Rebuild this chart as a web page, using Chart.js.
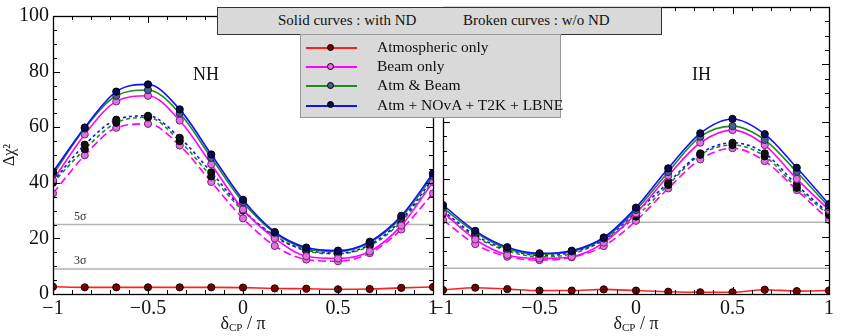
<!DOCTYPE html>
<html>
<head>
<meta charset="utf-8">
<script src="https://cdn.jsdelivr.net/npm/chart.js"></script>
<style>
    body { margin: 0; background: #fff; }
    #wrap { position: relative; width: 855px; height: 336px; font-family: 'Liberation Serif', serif; color: #111; }
    #wrap canvas { position: absolute; left: 0; top: 0; }
    .note { position: absolute; left: 217px; top: 7px; width: 443px; height: 26px; background: #d9d9d9; border: 1px solid #333; font-size: 15px; }
    .note span { position: absolute; top: 4px; white-space: nowrap; }
    .legend { position: absolute; left: 300px; top: 34px; width: 259px; height: 82px; background: #d9d9d9; border: 1px solid #999; font-size: 15.5px; }
    .legend .row { position: absolute; left: 0; height: 19px; white-space: nowrap; }
    .legend .row .sw { position: absolute; left: 5px; top: 9px; width: 51px; height: 2px; }
    .legend .row .sw i { position: absolute; left: 21px; top: -3.5px; width: 7px; height: 7px; border-radius: 50%; box-sizing: border-box; border: 1px solid #000; }
    .legend .row b { position: absolute; left: 76px; top: 0; font-weight: normal; }
    .xtitle { position: absolute; top: 313px; font-size: 18px; white-space: nowrap; transform: translateX(-50%); }
    .xtitle sub { font-size: 11px; vertical-align: -2px; }
    .panel { position: absolute; top: 64px; font-size: 18px; }
</style>
</head>
<body>
<div id="wrap">
    <canvas id="nhChart" width="855" height="336"></canvas>
    <canvas id="ihChart" width="855" height="336"></canvas>

    <div class="panel" style="left:193px;">NH</div>
    <div class="panel" style="left:692px;">IH</div>

    <div class="note">
        <span style="left:60px;">Solid curves : with ND</span>
        <span style="left:245px;">Broken curves : w/o ND</span>
    </div>

    <div class="legend" id="legend"></div>

    <div class="xtitle" style="left:243px;">δ<sub>CP</sub> / π</div>
    <div class="xtitle" style="left:636px;">δ<sub>CP</sub> / π</div>
</div>

<script>
    // delta_CP / pi sample points
    const deltaCP = [-1, -0.833, -0.667, -0.5, -0.333, -0.167, 0, 0.167, 0.333, 0.5, 0.667, 0.833, 1];

    // NH panel, solid = with ND, dashed = w/o ND
    const nhAtm         = [2.6, 2.4, 2.4, 2.4, 2.4, 2.4, 2.3, 2.0, 1.9, 1.7, 1.8, 2.2, 2.5];
    const nhBeamND      = [40.9, 57.4, 69.3, 71.3, 62.4, 46.7, 30.4, 20.0, 13.6, 12.8, 15.3, 24.6, 40.3];
    const nhAtmBeamND   = [43.0, 59.5, 71.3, 73.4, 65.0, 49.0, 33.0, 22.0, 16.3, 15.3, 18.5, 27.5, 42.5];
    const nhAllND       = [43.9, 59.9, 72.8, 75.4, 66.4, 50.2, 33.9, 22.3, 16.7, 15.6, 18.8, 28.1, 43.4];
    const nhBeamNoND    = [36.2, 49.9, 59.8, 61.2, 53.4, 40.3, 27.2, 17.3, 12.4, 11.8, 14.7, 23.2, 36.2];
    const nhAtmBeamNoND = [40.0, 52.1, 61.6, 63.5, 55.0, 42.3, 30.0, 21.0, 15.5, 14.5, 17.3, 26.0, 40.5];
    const nhAllNoND     = [40.5, 53.7, 62.7, 64.1, 56.2, 43.8, 30.4, 20.6, 15.9, 14.7, 17.7, 26.7, 41.5];

    // IH panel
    const ihAtm         = [1.4, 2.2, 1.7, 1.2, 1.2, 1.6, 1.2, 0.8, 0.6, 0.6, 1.5, 1.0, 1.2];
    const ihBeamND      = [28.5, 19.0, 13.6, 12.4, 13.0, 17.9, 28.1, 41.2, 52.7, 57.1, 51.9, 40.1, 29.3];
    const ihAtmBeamND   = [30.0, 21.5, 15.8, 13.9, 14.8, 19.3, 29.3, 42.5, 54.8, 58.5, 53.7, 42.5, 30.3];
    const ihAllND       = [31.0, 22.0, 16.3, 14.2, 15.1, 19.7, 30.1, 43.8, 56.0, 61.0, 55.7, 44.0, 31.3];
    const ihBeamNoND    = [25.8, 17.4, 13.0, 11.8, 12.8, 16.7, 25.5, 36.8, 46.9, 50.8, 46.3, 36.2, 25.8];
    const ihAtmBeamNoND = [28.0, 20.0, 15.0, 13.0, 14.0, 18.7, 27.0, 38.0, 48.5, 51.9, 48.0, 37.0, 27.5];
    const ihAllNoND     = [29.0, 20.5, 15.5, 13.5, 14.5, 19.0, 28.5, 38.8, 49.0, 52.7, 49.0, 38.0, 28.0];

    const legendLabels = ['Atmospheric only', 'Beam only', 'Atm & Beam', 'Atm + NOvA + T2K + LBNE'];
    const sigmaLevels = [25, 9];
    const sigmaLabels = ['5σ', '3σ'];
    const xTicks = [-1, -0.5, 0, 0.5, 1];
    const yTicks = [0, 20, 40, 60, 80, 100];

    const colors = { atm: '#ff2020', beam: '#ff00ff', both: '#1f8a1f', all: '#1010ff' };
    const markers = {
        atm: { fill: '#7a0000', edge: '#1a0000' },
        beam: { fill: '#e070e0', edge: '#7a207a' },
        both: { fill: '#4a5f8f', edge: '#1a2a4a' },
        all: { fill: '#0a0a55', edge: '#000' },
        black: { fill: '#111', edge: '#000' }
    };

    Chart.defaults.font.family = "'Liberation Serif', serif";
    Chart.defaults.color = '#111';

    function series(values, color, marker, dash) {
        return {
            data: deltaCP.map((x, i) => ({ x: x, y: values[i] })),
            borderColor: color,
            borderWidth: 1.6,
            borderDash: dash || [],
            pointRadius: 3.6,
            pointBackgroundColor: marker.fill,
            pointBorderColor: marker.edge,
            pointBorderWidth: 1,
            cubicInterpolationMode: 'monotone',
            fill: false
        };
    }

    // sigma lines, frame and inward ticks
    const framePlugin = {
        id: 'framePlugin',
        beforeDatasetsDraw(chart, args, opts) {
            const { ctx, chartArea: a, scales: { y } } = chart;
            ctx.save();
            ctx.strokeStyle = '#b4b4b4';
            ctx.lineWidth = 1.5;
            sigmaLevels.forEach((v, i) => {
                const py = y.getPixelForValue(v);
                ctx.beginPath();
                ctx.moveTo(a.left, py);
                ctx.lineTo(a.right, py);
                ctx.stroke();
                if (opts.labels) {
                    ctx.fillStyle = '#333';
                    ctx.font = "12px 'Liberation Serif'";
                    ctx.fillText(sigmaLabels[i], a.left + 21, py - 5);
                }
            });
            ctx.restore();
        },
        afterDatasetsDraw(chart) {
            const { ctx, chartArea: a, scales: { x, y } } = chart;
            ctx.save();
            ctx.strokeStyle = '#000';
            ctx.lineWidth = 1;
            ctx.beginPath();
            for (let k = 0; k <= 20; k++) {
                const v = -1 + k * 0.1;
                const px = Math.round(x.getPixelForValue(v)) + 0.5;
                const len = (k % 5 === 0) ? 7 : 4;
                ctx.moveTo(px, a.bottom); ctx.lineTo(px, a.bottom - len);
                ctx.moveTo(px, a.top); ctx.lineTo(px, a.top + len);
            }
            for (let v = 0; v <= 100; v += 5) {
                const py = Math.round(y.getPixelForValue(v)) + 0.5;
                const len = (v % 20 === 0) ? 7 : 4;
                ctx.moveTo(a.left, py); ctx.lineTo(a.left + len, py);
                ctx.moveTo(a.right, py); ctx.lineTo(a.right - len, py);
            }
            ctx.stroke();
            ctx.lineWidth = 1.3;
            ctx.strokeRect(Math.round(a.left) + 0.5, Math.round(a.top) + 0.5, Math.round(a.right - a.left), Math.round(a.bottom - a.top));
            ctx.restore();
        }
    };

    function makePanel(id, d, left, right, showY) {
        const sets = [
            series(d[0], colors.atm, markers.atm),
            series(d[3], colors.all, markers.all),
            series(d[2], colors.both, markers.both),
            series(d[1], colors.beam, markers.beam),
            series(d[6], colors.all, markers.black, [3, 3]),
            series(d[5], colors.both, markers.black, [4, 3]),
            series(d[4], colors.beam, markers.beam, [8, 4])
        ];
        return new Chart(document.getElementById(id), {
            type: 'line',
            data: { datasets: sets },
            options: {
                responsive: false,
                animation: false,
                layout: { autoPadding: false, padding: { left: left, right: right, top: 7, bottom: 0 } },
                plugins: { legend: { display: false }, tooltip: { enabled: false }, framePlugin: { labels: showY } },
                scales: {
                    x: {
                        type: 'linear', min: -1, max: 1,
                        afterFit: s => { s.height = 42; },
                        afterBuildTicks: s => { s.ticks = xTicks.map(v => ({ value: v })); },
                        grid: { display: false, drawTicks: false }, border: { display: false },
                        ticks: {
                            padding: 3,
                            font: { size: 20 },
                            callback: v => v < 0 ? '\u2212' + Math.abs(v) : String(v)
                        }
                    },
                    y: {
                        min: 0, max: 100,
                        afterFit: s => { s.width = showY ? 53 : 0; },
                        afterBuildTicks: s => { s.ticks = yTicks.map(v => ({ value: v })); },
                        grid: { display: false, drawTicks: false }, border: { display: false },
                        ticks: { display: showY, padding: 4, font: { size: 20 } },
                        title: { display: showY, text: 'Δχ²', padding: 0, font: { size: 16 } }
                    }
                }
            },
            plugins: [framePlugin]
        });
    }

    function init() {
        makePanel('nhChart', [nhAtm, nhBeamND, nhAtmBeamND, nhAllND, nhBeamNoND, nhAtmBeamNoND, nhAllNoND], 0, 422, true);
        makePanel('ihChart', [ihAtm, ihBeamND, ihAtmBeamND, ihAllND, ihBeamNoND, ihAtmBeamNoND, ihAllNoND], 443, 26, false);

        // legend rows
        const legendKeys = ['atm', 'beam', 'both', 'all'];
        const legendEl = document.getElementById('legend');
        legendLabels.forEach((label, i) => {
            const k = legendKeys[i];
            const row = document.createElement('div');
            row.className = 'row';
            row.style.top = (3 + i * 19.2) + 'px';
            row.innerHTML = '<span class="sw" style="background:' + colors[k] + '"><i style="background:' + markers[k].fill + '"></i></span><b>' + label + '</b>';
            legendEl.appendChild(row);
        });
    }

    document.fonts.load("20px 'Liberation Serif'").then(init, init);
</script>
</body>
</html>
